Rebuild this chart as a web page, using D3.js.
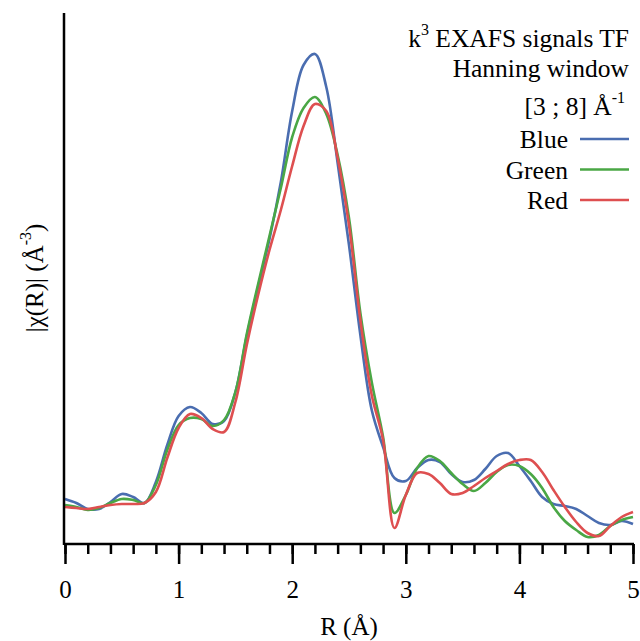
<!DOCTYPE html>
<html>
<head>
<meta charset="utf-8">
<script src="https://cdn.jsdelivr.net/npm/d3@7"></script>
<style>
  body { margin: 0; background: #fff; }
  svg { display: block; font-family: "Liberation Serif", "Times New Roman", serif; }
  svg text { font-family: "Liberation Serif", "Times New Roman", serif; }
</style>
</head>
<body>
<svg id="chart" width="640" height="641"></svg>
<script>
// R grid (Å), 0 .. 5 step 0.1
const rValues = d3.range(0, 51).map((i) => i / 10);

// |chi(R)| (arbitrary units)
const blueValues = [0.45, 0.41, 0.35, 0.35, 0.42, 0.50, 0.47, 0.41, 0.62, 0.99,
  1.28, 1.37, 1.31, 1.20, 1.23, 1.52, 2.08, 2.57, 3.05, 3.62,
  4.33, 4.79, 4.90, 4.57, 3.81, 2.99, 2.09, 1.34, 0.97, 0.66,
  0.63, 0.76, 0.84, 0.82, 0.70, 0.62, 0.64, 0.75, 0.88, 0.91,
  0.78, 0.63, 0.47, 0.40, 0.38, 0.35, 0.28, 0.21, 0.19, 0.23, 0.20];
const greenValues = [0.39, 0.37, 0.34, 0.36, 0.41, 0.45, 0.44, 0.41, 0.59, 0.94,
  1.19, 1.26, 1.25, 1.18, 1.24, 1.52, 2.10, 2.60, 3.08, 3.56,
  4.07, 4.36, 4.47, 4.30, 3.89, 3.26, 2.31, 1.62, 1.07, 0.31,
  0.49, 0.76, 0.88, 0.83, 0.71, 0.60, 0.53, 0.61, 0.72, 0.79,
  0.78, 0.70, 0.56, 0.37, 0.23, 0.14, 0.07, 0.09, 0.18, 0.24, 0.27];
const redValues = [0.37, 0.36, 0.35, 0.37, 0.39, 0.40, 0.40, 0.41, 0.52, 0.86,
  1.16, 1.30, 1.26, 1.15, 1.12, 1.42, 1.99, 2.49, 2.94, 3.34,
  3.78, 4.18, 4.40, 4.33, 3.86, 3.19, 2.24, 1.49, 1.04, 0.16,
  0.49, 0.71, 0.70, 0.61, 0.50, 0.51, 0.58, 0.66, 0.73, 0.80,
  0.84, 0.84, 0.72, 0.54, 0.37, 0.22, 0.11, 0.08, 0.18, 0.27, 0.32];

const seriesNames = ["Blue", "Green", "Red"];
const seriesColors = ["#4a6db0", "#4aa745", "#de4f50"];
const xMajorTicks = [0, 1, 2, 3, 4, 5];
const xMinorTicks = d3.range(0, 26).map((i) => i / 5);

const series = [blueValues, greenValues, redValues].map((vals, i) => ({
  name: seriesNames[i],
  color: seriesColors[i],
  items: vals.map((v, j) => ({ r: rValues[j], value: v }))
}));

const svg = d3.select("#chart");
const x0 = 65, x1 = 633, yTop = 13, yBase = 544;
const serif = "Liberation Serif, Times New Roman, serif";

const xScale = d3.scaleLinear().domain([0, 5]).range([x0, x1]);
const yScale = d3.scaleLinear().domain([0, 5.31]).range([yBase, yTop]);

// curves
const line = d3.line()
  .x((d) => xScale(d.r))
  .y((d) => yScale(d.value))
  .curve(d3.curveCatmullRom.alpha(0.5));

svg.append("g")
  .selectAll("path")
  .data(series)
  .join("path")
  .attr("fill", "none")
  .attr("stroke", (d) => d.color)
  .attr("stroke-width", 2.6)
  .attr("d", (d) => line(d.items));

// axes
const minorAxis = d3.axisBottom(xScale)
  .tickValues(xMinorTicks)
  .tickSize(10)
  .tickFormat("");
const gMinor = svg.append("g")
  .attr("transform", `translate(0,${yBase})`)
  .call(minorAxis);
gMinor.select(".domain").remove();

const majorAxis = d3.axisBottom(xScale)
  .tickValues(xMajorTicks)
  .tickSize(20)
  .tickPadding(16)
  .tickFormat(d3.format("d"));
const gMajor = svg.append("g")
  .attr("transform", `translate(0,${yBase})`)
  .call(majorAxis)
  .attr("font-family", serif)
  .attr("font-size", 25);
gMajor.select(".domain").remove();
gMajor.selectAll("text").attr("fill", "#000");

svg.selectAll(".tick line").attr("stroke", "#000").attr("stroke-width", 2.5);

svg.append("line")
  .attr("x1", x0 - 1).attr("x2", x1 + 1)
  .attr("y1", yBase).attr("y2", yBase)
  .attr("stroke", "#000").attr("stroke-width", 2.5);
svg.append("line")
  .attr("x1", x0 - 1).attr("x2", x0 - 1)
  .attr("y1", yTop).attr("y2", yBase + 1)
  .attr("stroke", "#000").attr("stroke-width", 2.5);

// axis titles
svg.append("text")
  .attr("x", (x0 + x1) / 2)
  .attr("y", 635)
  .attr("text-anchor", "middle")
  .attr("font-size", 25)
  .text("R (Å)");

const yTitle = svg.append("text")
  .attr("transform", `translate(43,278) rotate(-90)`)
  .attr("text-anchor", "middle")
  .attr("font-size", 25);
yTitle.append("tspan").text("|χ(R)| (Å");
yTitle.append("tspan").attr("font-size", 16).attr("dy", -12).text("-3");
yTitle.append("tspan").attr("dy", 12).text(")");

// legend
const legendRight = 629;
const title1 = svg.append("text")
  .attr("x", legendRight).attr("y", 47)
  .attr("text-anchor", "end")
  .attr("font-size", 25.5);
title1.append("tspan").text("k");
title1.append("tspan").attr("font-size", 16).attr("dy", -12).text("3");
title1.append("tspan").attr("dy", 12).text(" EXAFS signals TF");

svg.append("text")
  .attr("x", legendRight).attr("y", 77)
  .attr("text-anchor", "end")
  .attr("font-size", 25.5)
  .text("Hanning window");

const title3 = svg.append("text")
  .attr("x", legendRight - 4).attr("y", 115)
  .attr("text-anchor", "end")
  .attr("font-size", 25.5);
title3.append("tspan").text("[3 ; 8] Å");
title3.append("tspan").attr("font-size", 16).attr("dy", -12).text("-1");

const legendRows = svg.append("g")
  .selectAll("g")
  .data(series)
  .join("g")
  .attr("transform", (d, i) => `translate(0,${139 + i * 30.5})`);
legendRows.append("line")
  .attr("x1", 580).attr("x2", legendRight)
  .attr("stroke", (d) => d.color)
  .attr("stroke-width", 2.6);
legendRows.append("text")
  .attr("x", 568).attr("y", 9)
  .attr("text-anchor", "end")
  .attr("font-size", 25.5)
  .text((d) => d.name);
</script>
</body>
</html>
